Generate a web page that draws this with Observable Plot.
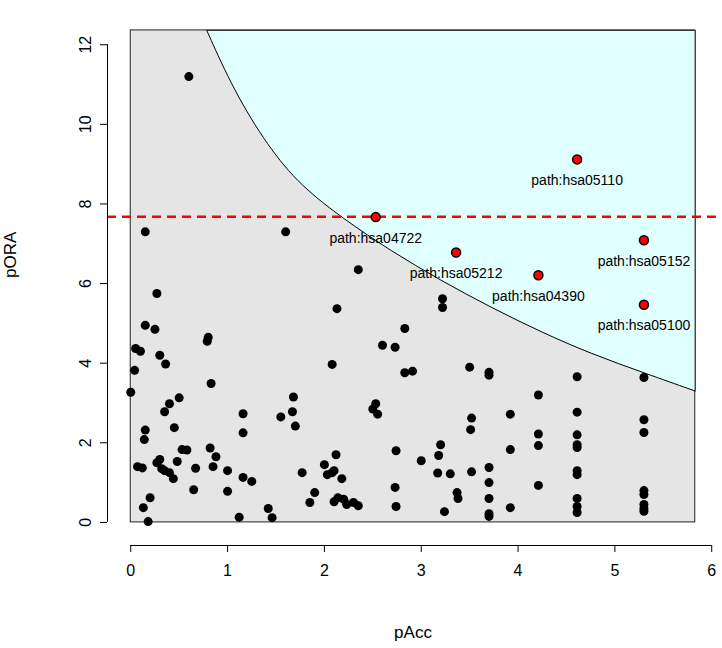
<!DOCTYPE html>
<html><head>
<script src="https://cdn.jsdelivr.net/npm/d3@7"></script>
<script src="https://cdn.jsdelivr.net/npm/@observablehq/plot@0.6"></script>
<style>body{margin:0;background:#fff}</style>
</head><body>
<div id="chart"></div>
<script>
// curve of the combined threshold
const curveX = [0.785, 1.064, 1.415, 1.756, 2.20, 2.686, 3.20, 3.72, 4.24, 4.75, 5.32, 5.83]
const curveY = [12.36, 10.85, 9.45, 8.45, 7.62, 6.82, 6.08, 5.40, 4.78, 4.24, 3.74, 3.30]
const xMax = 5.83, yMax = 12.36, thr = 7.68

const sigX = [2.53, 4.61, 3.36, 4.21, 5.30, 5.30]
const sigY = [7.67, 9.12, 6.78, 6.21, 7.09, 5.47]
const sigName = ["path:hsa04722","path:hsa05110","path:hsa05212","path:hsa04390","path:hsa05152","path:hsa05100"]

const xTicks = [0, 1, 2, 3, 4, 5, 6]
const yTicks = [0, 2, 4, 6, 8, 10, 12]

const pts = [[0.6,11.2],[0.15,7.3],[1.6,7.3],[2.35,6.35],[3.22,5.62],[3.22,5.4],[2.13,5.37],[0.27,5.75],[0.15,4.95],[0.25,4.85],[0.8,4.65],[0.79,4.55],[2.6,4.45],[2.73,4.4],[2.83,4.87],[0.05,4.37],[0.1,4.3],[0.3,4.2],[0.36,3.98],[0.04,3.82],[2.08,3.97],[3.5,3.9],[3.7,3.77],[3.7,3.7],[2.83,3.76],[2.91,3.8],[4.61,3.66],[5.3,3.64],[0,3.27],[0.83,3.49],[0.5,3.13],[0.4,2.98],[0.35,2.78],[1.68,3.15],[1.16,2.73],[1.67,2.78],[1.55,2.65],[2.5,2.85],[2.53,2.98],[2.55,2.72],[3.92,2.72],[4.21,3.2],[4.61,2.77],[5.3,2.58],[3.52,2.62],[0.45,2.38],[1.16,2.25],[1.7,2.42],[3.51,2.33],[4.21,2.22],[4.61,2.2],[5.3,2.26],[0.15,2.32],[0.14,2.08],[3.2,1.95],[3.92,1.83],[4.21,1.93],[4.61,1.95],[4.61,1.88],[2.12,1.7],[2.74,1.8],[3.18,1.68],[0.53,1.83],[0.58,1.82],[0.27,1.5],[0.3,1.58],[0.32,1.35],[0.4,1.25],[0.44,1.1],[0.48,1.53],[0.67,1.36],[0.82,1.87],[0.88,1.65],[0.85,1.4],[1.0,1.3],[1.16,1.13],[1.25,1.03],[1.77,1.25],[2.0,1.45],[2.08,1.25],[2.18,1.1],[2.03,1.2],[3.0,1.55],[3.17,1.24],[3.3,1.22],[3.52,1.27],[3.7,1.38],[3.7,1.0],[4.61,1.3],[4.61,1.2],[4.21,0.93],[0.07,1.4],[0.12,1.37],[0.35,1.3],[0.2,0.62],[0.13,0.37],[0.18,0.02],[0.65,0.82],[1.0,0.78],[1.12,0.13],[1.42,0.35],[1.46,0.12],[1.85,0.5],[1.9,0.75],[2.1,0.52],[2.2,0.58],[2.23,0.45],[2.3,0.5],[2.35,0.42],[2.73,0.88],[2.74,0.4],[3.24,0.27],[3.37,0.75],[3.38,0.6],[3.7,0.6],[3.7,0.22],[3.7,0.15],[3.92,0.37],[4.61,0.6],[4.61,0.4],[4.61,0.25],[5.3,0.8],[5.3,0.7],[5.3,0.45],[5.3,0.35],[5.3,0.28],[2.1,1.3],[2.14,0.62]]

const curve = curveX.map((x, i) => ({x, y: curveY[i]}))
const sig = sigX.map((x, i) => ({x, y: sigY[i], name: sigName[i]}))
const x0 = -0.24, y0 = -0.58

const chart = Plot.plot({
  width: 722, height: 648,
  marginLeft: 107, marginRight: 4, marginTop: 10, marginBottom: 103,
  style: {fontFamily: "Liberation Sans, Arial", fontSize: "16px"},
  x: {domain: [x0, 6.07], label: null},
  y: {domain: [y0, 12.86], label: null},
  marks: [
    Plot.rect([0], {x1: 0, x2: xMax, y1: 0, y2: yMax, fill: "#e5e5e5", stroke: "#222"}),
    Plot.areaY(curve, {x: "x", y1: "y", y2: yMax, fill: "#e0ffff", curve: "basis"}),
    Plot.line(curve, {x: "x", y: "y", stroke: "black", strokeWidth: 1, curve: "basis"}),
    Plot.ruleX([xMax], {y1: curveY[curveY.length-1], y2: yMax, stroke: "#222"}),
    Plot.ruleY([yMax], {x1: 0.785, x2: xMax, stroke: "#222"}),
    Plot.ruleY([thr], {x1: x0, x2: 6.07, stroke: "red", strokeWidth: 2.5, strokeDasharray: "9,6"}),
    Plot.dot(pts, {x: d => d[0], y: d => d[1], r: 4.5, fill: "black"}),
    Plot.dot(sig, {x: "x", y: "y", r: 4.5, fill: "red", stroke: "black"}),
    Plot.text(sig, {x: "x", y: "y", text: "name", dy: 21, fontSize: 14, fill: "black"}),
    Plot.ruleX([x0], {y1: 0, y2: 12, stroke: "black"}),
    Plot.ruleY([y0], {x1: 0, x2: 6, stroke: "black"}),
    Plot.axisX(xTicks, {tickSize: 7, tickPadding: 12, fontSize: 16}),
    Plot.axisY(yTicks, {tickSize: 7, tickPadding: 10, tickRotate: -90, fontSize: 16}),
    Plot.text(["pAcc"], {frameAnchor: "bottom", dy: 92, fontSize: 17}),
    Plot.text(["pORA"], {frameAnchor: "left", dx: -97, rotate: -90, fontSize: 17})
  ]
})
document.getElementById("chart").append(chart)
</script>
</body></html>
